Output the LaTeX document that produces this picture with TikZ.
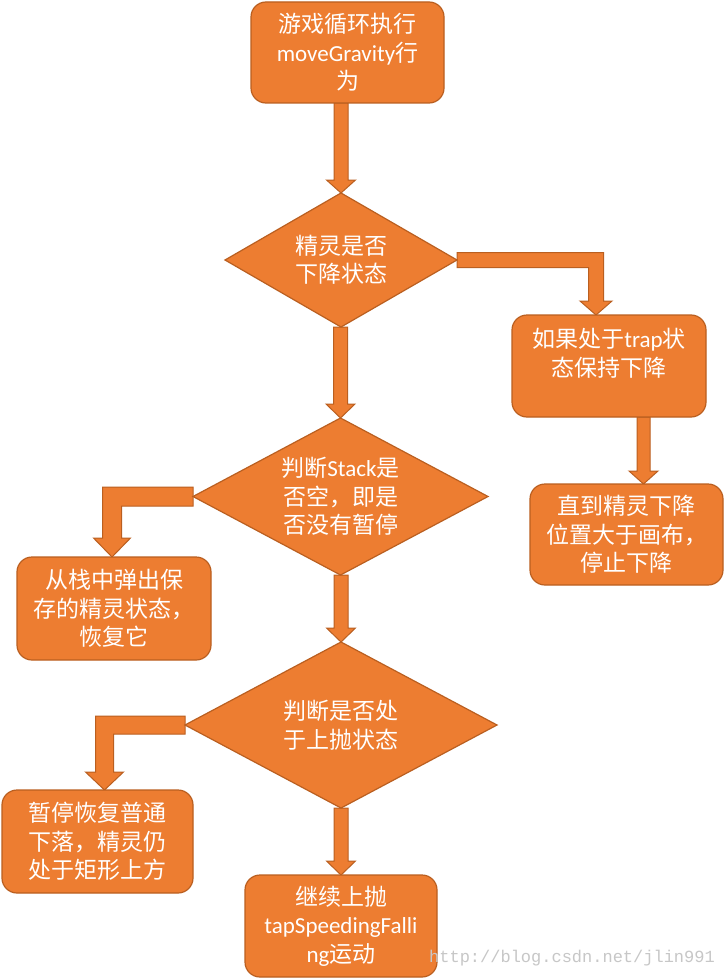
\documentclass[tikz,border=0pt]{standalone}
\usepackage{fontspec}
\setmainfont{Carlito}
\newfontfamily\cjk{Noto Sans CJK SC}
\newfontfamily\wmfont{Liberation Mono}
\usetikzlibrary{calc,shapes.geometric}
\definecolor{ofill}{HTML}{ED7D31}
\definecolor{oline}{HTML}{BA5F20}
\pgfdeclarelayer{bg}
\pgfsetlayers{bg,main}
\tikzset{
  shapebase/.style={draw=oline, fill=ofill, line width=1.2pt, inner sep=0pt, outer sep=0pt},
  box/.style={shapebase, rounded corners=15pt, text=white, align=center,
    font=\fontsize{23}{28.5}\selectfont},
  dia/.style={shapebase, diamond},
  txt/.style={text=white, align=center, inner sep=0pt, font=\fontsize{23}{28.5}\selectfont},
  blockarrow/.style={draw=oline, fill=ofill, line width=1pt, line join=miter},
}
% straight down block arrow: start, tip, shaft half width, head half width, head length
\newcommand\blockdown[5]{%
  \path[blockarrow] let \p1=(#1), \p2=(#2) in
  (\x2-#3pt,\y1) -- (\x2-#3pt,\y2+#5pt) -- (\x2-#4pt,\y2+#5pt) -- (\x2,\y2)
  -- (\x2+#4pt,\y2+#5pt) -- (\x2+#3pt,\y2+#5pt) -- (\x2+#3pt,\y1) -- cycle;}
% right then down
\newcommand\blockrd[5]{%
  \path[blockarrow] let \p1=(#1), \p2=(#2) in
  (\x1,\y1+#3pt) -- (\x2+#3pt,\y1+#3pt) -- (\x2+#3pt,\y2+#5pt) -- (\x2+#4pt,\y2+#5pt)
  -- (\x2,\y2) -- (\x2-#4pt,\y2+#5pt) -- (\x2-#3pt,\y2+#5pt) -- (\x2-#3pt,\y1-#3pt)
  -- (\x1,\y1-#3pt) -- cycle;}
% left then down
\newcommand\blockld[5]{%
  \path[blockarrow] let \p1=(#1), \p2=(#2) in
  (\x1,\y1+#3pt) -- (\x2-#3pt,\y1+#3pt) -- (\x2-#3pt,\y2+#5pt) -- (\x2-#4pt,\y2+#5pt)
  -- (\x2,\y2) -- (\x2+#4pt,\y2+#5pt) -- (\x2+#3pt,\y2+#5pt) -- (\x2+#3pt,\y1-#3pt)
  -- (\x1,\y1-#3pt) -- cycle;}
\begin{document}
\begin{tikzpicture}[x=1pt,y=-1pt]
\useasboundingbox (0,0) rectangle (724,979);

% boxes
\node[box, minimum width=193pt, minimum height=101pt] (top) at (347.5,52.5)
  {{\cjk 游戏循环执行}\\moveGravity{\cjk 行}\\{\cjk 为}};
\node[box, minimum width=194pt, minimum height=102pt] (b2) at (609,366) {};
\node[txt] (b2t) at ($(b2)+(0,-13)$) {{\cjk 如果处于}trap{\cjk 状}\\{\cjk 态保持下降}};
\node[box, minimum width=193pt, minimum height=101pt] (b3) at (626.5,534.5)
  {{\cjk 直到精灵下降}\\{\cjk 位置大于画布，}\\{\cjk 停止下降}};
\node[box, minimum width=194pt, minimum height=103pt] (b4) at (114,608.5)
  {{\cjk 从栈中弹出保}\\{\cjk 存的精灵状态，}\\{\cjk 恢复它}};
\node[box, minimum width=191pt, minimum height=103pt] (b5) at (97.5,841.5)
  {{\cjk 暂停恢复普通}\\{\cjk 下落，精灵仍}\\{\cjk 处于矩形上方}};
\node[box, minimum width=192pt, minimum height=102pt] (b6) at (341,926)
  {{\cjk 继续上抛}\\tapSpeedingFalli\\ng{\cjk 运动}};

% diamonds
\node[dia, minimum width=232pt, minimum height=134pt] (d1) at (341,260) {};
\node[txt] (d1t) at (d1) {{\cjk 精灵是否}\\{\cjk 下降状态}};
\node[dia, minimum width=295pt, minimum height=157pt] (d2) at (340.5,496.5) {};
\node[txt] (d2t) at (d2) {{\cjk 判断}Stack{\cjk 是}\\{\cjk 否空，即是}\\{\cjk 否没有暂停}};
\node[dia, minimum width=312pt, minimum height=166pt] (d3) at (341,725) {};
\node[txt] (d3t) at (d3) {{\cjk 判断是否处}\\{\cjk 于上抛状态}};

% watermark
\node[text=black!22, inner sep=0pt, font=\wmfont\fontsize{17}{17}\selectfont] (wm) at (572,958)
  {http://blog.csdn.net/jlin991};

% arrow end points
\coordinate (b3in) at ($(b3.north)+(17,0)$);
\coordinate (b2in) at ($(b2.north)+(-13,0)$);
\coordinate (b4in) at ($(b4.north)+(-2,0)$);
\coordinate (b5in) at ($(b5.north)+(7,0)$);

% block arrows
\begin{pgfonlayer}{bg}
\fill[white] (0,0) rectangle (724,979);
\blockdown{d1.north |- top.south}{d1.north}{7}{14.5}{13}
\blockdown{d1.south}{d2.north}{7}{14.5}{14}
\blockdown{d2.south}{d3.north}{7}{14.5}{14}
\blockdown{d3.south}{d3.south |- b6.north}{7}{14.5}{14}
\blockdown{b3in |- b2.south}{b3in}{6.5}{14.5}{13}
\blockrd{d1.east}{b2in}{7.5}{16}{14}
\blockld{d2.west}{b4in}{9.5}{18.5}{19}
\blockld{d3.west}{b5in}{9}{19}{18}
\end{pgfonlayer}
\end{tikzpicture}
\end{document}
